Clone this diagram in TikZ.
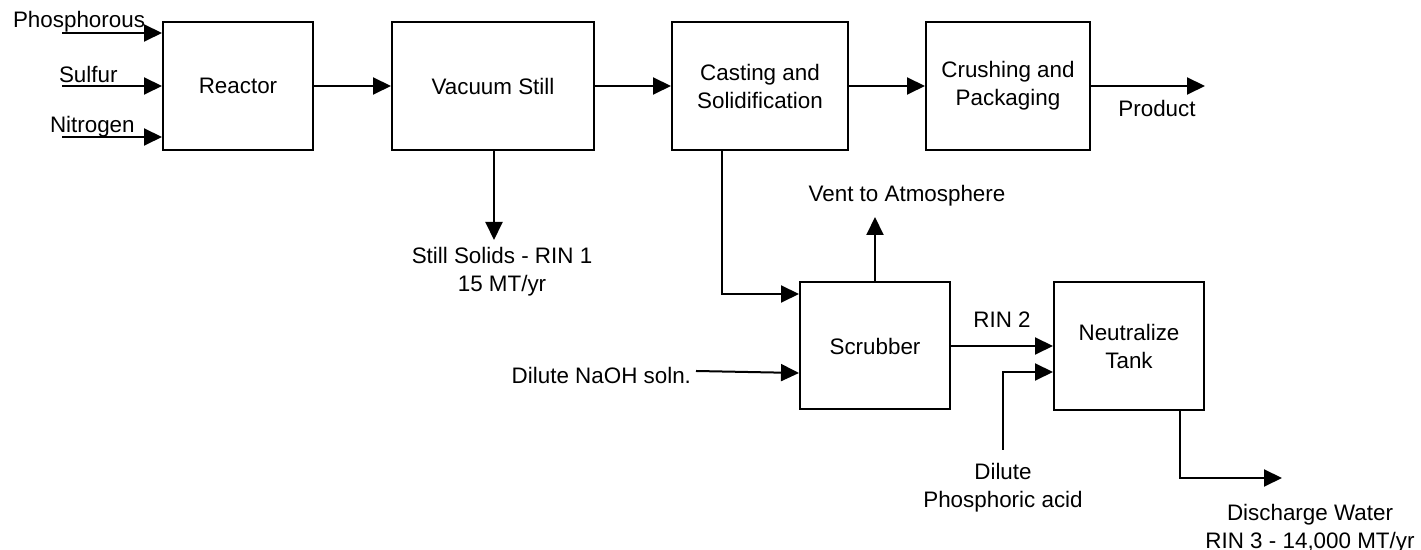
\documentclass[tikz,border=0pt]{standalone}
\usepackage{fontspec}
\setmainfont{Liberation Sans}
\usetikzlibrary{arrows.meta}

\begin{document}
\begin{tikzpicture}[x=0.5pt,y=-0.5pt,line width=1pt,
  unitbox/.style={draw,inner sep=0pt,align=center,minimum height=64pt,font=\fontsize{11.2}{14}\selectfont},
  lbl/.style={inner sep=0pt,align=center,font=\fontsize{11.2}{14}\selectfont},
  flow/.style={-{Triangle[length=9pt,width=8.5pt]}}]
\useasboundingbox (0,0) rectangle (1421,550);
\node[unitbox,minimum width=75pt] (reactor) at (238,86) {Reactor};
\node[unitbox,minimum width=101pt] (still) at (493,86) {Vacuum Still};
\node[unitbox,minimum width=88pt] (casting) at (760,86) {Casting and\\Solidification};
\node[unitbox,minimum width=82pt] (crushing) at (1008,86) {Crushing and\\Packaging};
\node[unitbox,minimum width=75pt,minimum height=63.5pt] (scrubber) at (875,346) {Scrubber};
\node[unitbox,minimum width=75pt] (neutral) at (1129,346) {Neutralize\\Tank};
\node[lbl,anchor=base west] (phos) at (12,28) {Phosphorous};
\node[lbl,anchor=base west] (sulfur) at (58,83) {Sulfur};
\node[lbl,anchor=base west] (nitro) at (49,133) {Nitrogen};
\node[lbl,anchor=base] (product) at (1157,117) {Product};
\node[lbl,anchor=north] (solids) at (502,246) {Still Solids - RIN 1\\15 MT/yr};
\node[lbl,anchor=base] (vent) at (907,202) {Vent to Atmosphere};
\node[lbl,anchor=base east] (naoh) at (692,384) {Dilute NaOH soln.};
\node[lbl,anchor=base] (rin2) at (1002,328) {RIN 2};
\node[lbl,anchor=north] (acid) at (1003,462) {Dilute\\Phosphoric acid};
\node[lbl,anchor=north] (water) at (1310,503) {Discharge Water\\RIN 3 - 14,000 MT/yr};
\coordinate (phosin) at (62,33);
\coordinate (sulfurin) at (62,86);
\coordinate (nitroin) at (62,137);
\coordinate (prodout) at (1205,86);
\coordinate (solidsout) at (494,240);
\coordinate (ventout) at (875,217);
\coordinate (waterout) at (1282,478);
\draw[flow] (phosin) -- (phosin -| reactor.west);
\draw[flow] (sulfurin) -- (sulfurin -| reactor.west);
\draw[flow] (nitroin) -- (nitroin -| reactor.west);
\draw[flow] (reactor) -- (still);
\draw[flow] (still) -- (casting);
\draw[flow] (casting) -- (crushing);
\draw[flow] (crushing) -- (prodout);
\draw[flow] (solidsout |- still.south) -- (solidsout);
\draw[flow] (casting.south -| 722,0) |- (scrubber.west |- 0,294);
\draw[flow] (scrubber.north) -- (ventout);
\draw[flow] ([shift={(4,-5)}]naoh.east) -- (scrubber.west |- 0,373);
\draw[flow] (scrubber) -- (neutral);
\draw[flow] ([yshift=6pt]acid.north) |- (neutral.west |- 0,372);
\draw[flow] (neutral.south -| 1180,0) |- (waterout);
\end{tikzpicture}
\end{document}
